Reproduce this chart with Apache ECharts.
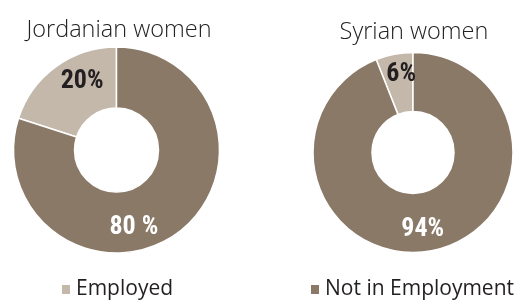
<!DOCTYPE html>
<html>
<head>
<meta charset="utf-8">
<script src="https://cdn.jsdelivr.net/npm/echarts@6/dist/echarts.min.js"></script>
<style>
  html, body { margin: 0; padding: 0; background: #fff; }
  #main { width: 528px; height: 302px; }
</style>
</head>
<body>
<div id="main"></div>
<script>
// 数据
var categories = ['Employed', 'Not in Employment']
var jordanValues = [20, 80]
var jordanLabels = ['20%', '80 %']
var syrianValues = [6, 94]
var syrianLabels = ['6%', '94%']
var chartTitles = ['Jordanian women', 'Syrian women']

var colors = ['#c3b8aa', '#8a7967']
var numFont = '"Roboto Condensed", "Liberation Sans Narrow", sans-serif'
var textFont = '"Open Sans", "Noto Sans", sans-serif'

function buildData(values, labels, offsets) {
  return categories.map(function (name, i) {
    return {
      name: name,
      value: values[i],
      label: {
        formatter: labels[i],
        offset: offsets[i],
        color: i === 0 ? '#231f20' : '#ffffff'
      }
    }
  })
}

function pieSeries(name, center, radius, data) {
  return {
    name: name,
    type: 'pie',
    center: center,
    radius: radius,
    startAngle: 90,
    clockwise: false,
    silent: true,
    itemStyle: { borderColor: '#ffffff', borderWidth: 1.5 },
    label: {
      show: true,
      position: 'inside',
      fontFamily: numFont,
      fontWeight: 'bold',
      fontSize: 26
    },
    labelLine: { show: false },
    data: data
  }
}

var titleStyle = { fontFamily: textFont, fontWeight: 300, fontSize: 23.5, color: '#222222' }
var legendText = { fontFamily: textFont, fontSize: 21, color: '#231f20' }

var chart = echarts.init(document.getElementById('main'))
chart.setOption({
  animation: false,
  color: colors,
  title: [
    { text: chartTitles[0], left: 114, top: 13, textAlign: 'center', textStyle: titleStyle },
    { text: chartTitles[1], left: 409, top: 15, textAlign: 'center', textStyle: titleStyle }
  ],
  legend: [
    { data: [categories[0]], left: 60, top: 279, padding: 0, icon: 'rect', itemWidth: 10, itemHeight: 11, itemGap: 6,
      textStyle: legendText },
    { data: [categories[1]], left: 309, top: 279, padding: 0, icon: 'rect', itemWidth: 10, itemHeight: 11, itemGap: 8,
      textStyle: legendText }
  ],
  series: [
    pieSeries(chartTitles[0], [116.5, 150], [42, 103],
      buildData(jordanValues, jordanLabels, [[10, -7], [-27, 16]])),
    pieSeries(chartTitles[1], [413, 152.5], [41, 100],
      buildData(syrianValues, syrianLabels, [[2, -6], [-4, 5]]))
  ]
})
</script>
</body>
</html>
